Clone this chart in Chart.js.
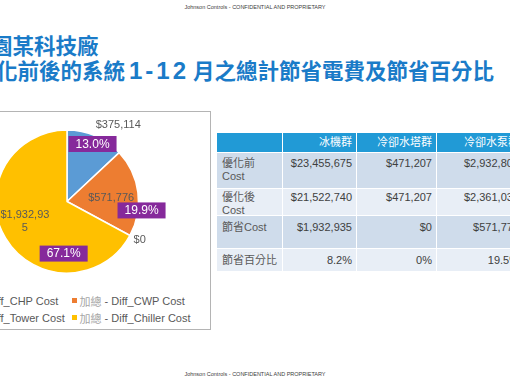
<!DOCTYPE html>
<html>
<head>
<meta charset="utf-8">
<script src="https://cdn.jsdelivr.net/npm/chart.js@4"></script>
<style>
  html, body { margin: 0; padding: 0; background: #fff; }
  body { width: 510px; height: 382px; position: relative; overflow: hidden;
         font-family: "Liberation Sans", Arial, "Noto Sans CJK TC", sans-serif; }
  .conf { position: absolute; left: 0; width: 510px; text-align: center; font-size: 5.5px; line-height: 6px; color: #404040; }
  .title { position: absolute; font-family: "Noto Sans CJK TC", "Noto Sans CJK SC", sans-serif; font-weight: bold;
           font-size: 21.5px; line-height: 21px; color: #1a7bc8; white-space: nowrap; }
  .title .num { display: inline-block; width: 68px; text-align: center; font-family: "Liberation Sans", Arial, sans-serif;
                font-size: 24px; letter-spacing: 3px; vertical-align: top; line-height: 23px; }
  .frame { position: absolute; left: -77px; top: 111px; width: 288px; height: 219px; box-sizing: border-box; border: 1px solid #b4b4b4; }
  #chartBox { position: absolute; left: -76px; top: 112px; width: 286px; height: 179px; }
  #legend { position: absolute; left: -52px; top: 292px; display: grid; grid-template-columns: 124px auto; row-gap: 0; font-size: 11px; color: #595959; }
  #legend .item { display: flex; align-items: center; height: 17px; white-space: nowrap; }
  #legend .box { width: 5px; height: 5px; margin-right: 2.5px; flex: none; }
  #legend .pre { color: #a6a6a6; }
  #tbl { position: absolute; left: 217px; top: 133px; display: grid; grid-template-columns: 65px 73px 79px 86px;
         grid-template-rows: 19px 35px 26px 32px 22px; gap: 1px; background: #fff; font-size: 11px; color: #404040; }
  #tbl div { box-sizing: border-box; white-space: pre; line-height: 13.5px; overflow: hidden; }
  #tbl .hd { background: #219ad6; color: #fff; text-align: right; padding: 3px 4px 0 4px; }
  #tbl .lbl { text-align: left; padding-left: 5px; color: #595959; }
  #tbl .val { text-align: right; padding-right: 4px; }
  #tbl .dark { background: #cfdceb; }
  #tbl .light { background: #e8eef6; }
</style>
</head>
<body>
<div class="conf" style="top:4px;">Johnson Controls - CONFIDENTIAL AND PROPRIETARY</div>
<div class="title" style="left:-9px; top:34px;">園某科技廠</div>
<div class="title" style="left:-4px; top:59px;">化前後的系統<span class="num">1-12</span>月之總計節省電費及節省百分比</div>

<div class="frame"></div>
<div id="chartBox"><canvas id="c"></canvas></div>
<div id="legend"></div>

<div id="tbl"></div>

<div class="conf" style="top:371px;">Johnson Controls - CONFIDENTIAL AND PROPRIETARY</div>

<script>
// ---- data ----
const categories = ['加總 - Diff_CHP Cost', '加總 - Diff_CWP Cost', '加總 - Diff_Tower Cost', '加總 - Diff_Chiller Cost'];
const savings = [375114, 571776, 0, 1932935];
const sliceColors = ['#5b9bd5', '#ed7d31', '#a5a5a5', '#ffc000'];

const tableColumns = ['冰機群', '冷卻水塔群', '冷卻水泵群'];
const rowLabels = ['優化前\nCost', '優化後\nCost', '節省Cost', '節省百分比'];
const costBefore = [23455675, 471207, 2932808];
const costAfter = [21522740, 471207, 2361032];
const costSaved = [1932935, 0, 571776];
const savedPct = [8.2, 0, 19.5];

// ---- label placement (style, not data) ----
const labelPlacement = [
  { val: { dAng: 10.3, r: 1.29 }, pct: { dAng: 0.5, r: 0.88 } },
  { val: { dAng: 2.8, r: 0.62 }, pct: { dAng: 14.2, r: 1.05 } },
  { val: { dAng: -0.5, r: 1.15 }, pct: null },
  { val: { dAng: 5.7, r: 0.65, wrap: 50 }, pct: { dAng: -55.5, r: 0.73 } }
];

const money = n => '$' + n.toLocaleString('en-US');

function wrapChars(ctx, text, maxW) {
  const lines = []; let cur = '';
  for (const ch of text) {
    if (ctx.measureText(cur + ch).width > maxW && cur) { lines.push(cur); cur = ch; }
    else cur += ch;
  }
  if (cur) lines.push(cur);
  return lines;
}

const pieLabels = {
  id: 'pieLabels',
  afterDatasetsDraw(chart) {
    const ctx = chart.ctx;
    const meta = chart.getDatasetMeta(0);
    const data = chart.data.datasets[0].data;
    const total = data.reduce((a, b) => a + b, 0);
    meta.data.forEach((arc, i) => {
      const { x, y, startAngle, endAngle, outerRadius } = arc.getProps(['x', 'y', 'startAngle', 'endAngle', 'outerRadius'], true);
      const mid = (startAngle + endAngle) / 2;
      const pl = labelPlacement[i];
      const pos = p => {
        const a = mid + p.dAng * Math.PI / 180;
        return [x + Math.cos(a) * outerRadius * p.r, y + Math.sin(a) * outerRadius * p.r];
      };
      ctx.save();
      ctx.textAlign = 'center';
      ctx.textBaseline = 'middle';
      ctx.font = '11px "Liberation Sans", Arial, sans-serif';
      ctx.fillStyle = '#595959';
      const [vx, vy] = pos(pl.val);
      const txt = money(data[i]);
      const lines = pl.val.wrap ? wrapChars(ctx, txt, pl.val.wrap) : [txt];
      const lh = 13.5;
      lines.forEach((l, k) => ctx.fillText(l, vx, vy + (k - (lines.length - 1) / 2) * lh));
      if (pl.pct && data[i] > 0) {
        const p = (data[i] / total * 100).toFixed(1) + '%';
        ctx.font = '12px "Liberation Sans", Arial, sans-serif';
        const w = ctx.measureText(p).width + 14, h = 16;
        const [px, py] = pos(pl.pct);
        ctx.fillStyle = '#86299b';
        ctx.fillRect(px - w / 2, py - h / 2, w, h);
        ctx.fillStyle = '#ffffff';
        ctx.fillText(p, px, py + 0.5);
      }
      ctx.restore();
    });
  }
};

new Chart(document.getElementById('c'), {
  type: 'pie',
  data: {
    labels: categories,
    datasets: [{ data: savings, backgroundColor: sliceColors, borderColor: '#ffffff', borderWidth: 1.5, radius: 71.5 }]
  },
  options: {
    responsive: true,
    maintainAspectRatio: false,
    animation: false,
    layout: { padding: 0 },
    plugins: { legend: { display: false }, tooltip: { enabled: false } }
  },
  plugins: [pieLabels]
});

// legend (order: row-wise, two columns)
const legend = document.getElementById('legend');
categories.forEach((c, i) => {
  const parts = c.split(' - ');
  const it = document.createElement('div');
  it.className = 'item';
  it.innerHTML = '<span class="box" style="background:' + sliceColors[i] + '"></span>' +
    '<span class="pre">' + parts[0] + '</span>&nbsp;- ' + parts.slice(1).join(' - ');
  legend.appendChild(it);
});

// table
const tbl = document.getElementById('tbl');
function cell(text, cls) {
  const d = document.createElement('div');
  d.className = cls; d.textContent = text; tbl.appendChild(d);
}
cell('', 'hd');
tableColumns.forEach(t => cell(t, 'hd'));
const rows = [
  costBefore.map(money),
  costAfter.map(money),
  costSaved.map(money),
  savedPct.map(v => v + '%')
];
const rowPad = ['3.5px', '1.5px', '4.5px', '4.5px'];
rows.forEach((r, ri) => {
  const shade = ri % 2 === 0 ? 'dark' : 'light';
  cell(rowLabels[ri], 'lbl ' + shade);
  tbl.lastChild.style.paddingTop = rowPad[ri];
  r.forEach(v => { cell(v, 'val ' + shade); tbl.lastChild.style.paddingTop = rowPad[ri]; });
});
</script>
</body>
</html>
